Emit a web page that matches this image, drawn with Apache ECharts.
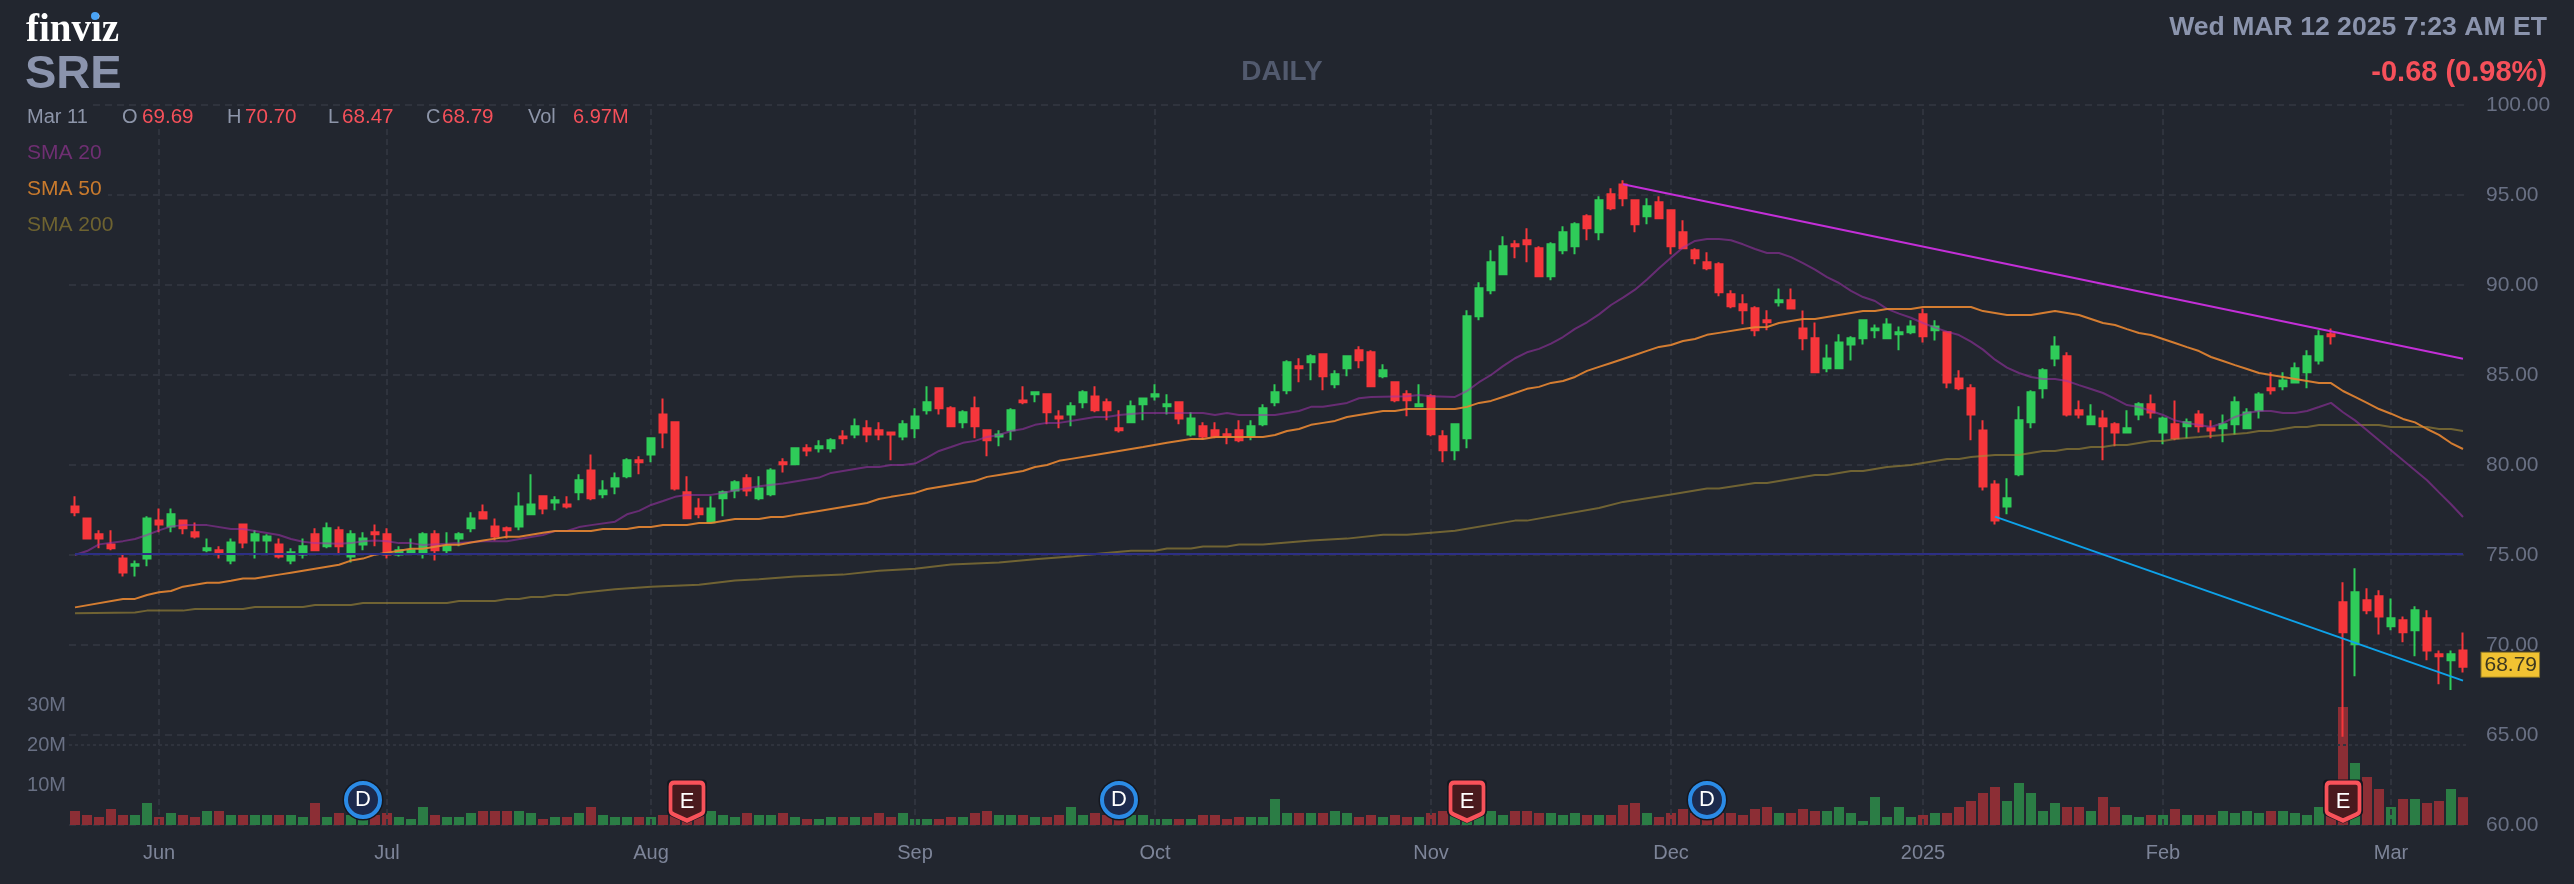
<!DOCTYPE html>
<html><head><meta charset="utf-8"><style>html,body{margin:0;padding:0;background:#22262f}#c{width:2574px;height:884px}</style>
<script src="https://cdn.jsdelivr.net/npm/echarts@6/dist/echarts.min.js"></script></head><body><div id="c"></div><script>
const opens=[77.70,77.03,76.15,75.59,74.81,74.40,74.81,76.92,76.59,76.92,76.26,75.26,75.26,74.70,76.70,75.81,75.81,75.59,74.70,75.03,76.15,75.48,76.37,74.92,75.59,76.26,76.15,75.03,75.15,75.15,76.15,75.26,75.92,76.48,77.37,76.59,76.48,76.59,77.26,78.26,77.92,77.81,78.48,79.70,78.37,78.81,79.37,80.26,80.59,82.81,82.37,78.48,77.59,76.82,78.15,78.59,79.26,78.15,78.37,80.15,80.04,80.93,80.93,80.93,81.59,81.70,82.04,81.93,81.81,81.59,82.04,83.04,84.26,83.15,82.37,83.15,81.93,81.59,81.93,83.59,83.93,83.93,82.70,82.81,83.48,83.81,83.48,82.04,82.37,83.37,83.81,83.26,83.48,81.70,82.15,81.93,81.71,81.93,81.60,82.26,83.49,84.15,85.49,85.71,86.15,84.49,85.37,86.37,86.26,84.93,84.60,83.93,83.26,83.82,81.60,80.82,81.49,88.26,89.71,90.60,92.26,92.49,92.04,90.49,91.93,92.15,93.82,92.93,95.04,95.59,94.71,93.82,94.60,94.15,92.93,91.93,91.26,91.15,89.49,88.93,88.71,88.04,89.04,89.15,87.59,87.04,85.37,85.37,86.70,87.04,87.48,87.04,87.26,87.37,88.37,87.48,87.37,84.81,84.26,81.92,78.92,77.70,79.48,82.37,84.26,85.92,86.04,83.04,82.26,82.59,82.26,81.81,82.81,83.37,81.81,82.26,82.15,82.81,82.04,82.04,82.26,82.04,83.04,84.26,84.37,84.59,85.15,85.81,87.26,72.37,70.04,72.48,72.71,71.04,71.37,70.82,71.48,69.48,69.15,69.69];
const highs=[78.26,77.03,76.37,76.37,75.03,74.70,77.15,77.59,77.59,76.92,76.81,75.92,75.48,75.92,76.70,76.37,76.15,75.92,75.37,75.92,76.48,76.81,76.59,76.37,76.26,76.70,76.48,75.48,75.92,76.26,76.37,76.26,76.26,77.37,77.81,77.03,76.59,78.48,79.48,78.26,78.26,78.26,79.48,80.59,79.15,79.59,80.37,80.48,81.48,83.70,82.37,79.37,78.15,78.26,78.59,79.15,79.48,79.37,79.82,80.37,80.93,81.15,81.37,81.48,81.93,82.59,82.48,82.37,81.81,82.48,83.15,84.37,84.26,83.26,83.04,83.81,81.93,81.93,83.15,84.37,84.04,83.93,83.04,83.48,84.15,84.37,83.70,83.04,83.59,83.70,84.48,83.93,83.48,82.93,82.37,82.37,82.04,82.49,82.49,83.37,84.49,85.82,85.93,86.15,86.15,85.26,86.04,86.60,86.37,85.60,84.60,84.15,84.49,83.93,81.93,82.26,88.60,90.15,91.93,92.71,92.49,93.15,92.15,92.37,93.26,93.49,93.93,94.93,95.37,95.82,94.71,94.82,94.93,94.15,93.60,92.04,91.82,91.26,89.71,89.49,88.82,88.60,89.81,89.81,88.59,87.92,86.70,87.26,87.15,88.04,87.81,88.15,87.70,88.04,88.70,88.04,87.37,85.26,84.48,82.48,79.15,79.26,83.26,84.15,85.37,87.15,86.26,83.59,83.37,83.04,82.37,83.04,83.48,83.92,82.70,83.59,82.59,83.04,82.48,82.81,83.81,83.15,84.04,85.15,85.15,85.70,86.37,87.48,87.59,73.48,74.26,73.15,73.04,72.59,71.59,72.15,71.93,69.70,69.70,70.70];
const lows=[77.15,75.92,75.37,75.26,73.81,73.81,74.37,76.26,76.26,76.15,75.92,75.15,74.81,74.48,75.37,74.81,75.03,74.81,74.48,74.81,75.26,75.37,75.03,74.59,75.26,75.48,74.81,74.92,75.03,74.81,74.70,75.03,75.48,76.26,77.03,75.81,75.92,76.37,77.26,77.26,77.48,77.59,78.04,78.04,78.15,78.37,79.26,79.48,80.15,80.93,78.59,77.04,77.04,76.82,77.15,78.15,78.26,78.04,78.26,79.59,80.04,80.48,80.70,80.70,81.15,81.48,81.26,81.37,80.26,81.37,81.48,82.81,82.81,82.15,82.04,81.48,80.48,81.04,81.37,83.37,83.48,82.26,82.04,82.15,83.15,82.93,82.48,81.81,82.37,82.48,83.59,82.81,82.26,81.59,81.41,81.48,81.15,81.26,81.37,82.15,83.26,83.93,84.60,84.71,84.15,84.26,84.93,85.37,84.37,84.82,83.49,82.71,83.26,81.60,80.15,80.26,80.93,88.04,89.49,90.60,91.49,91.26,90.49,90.26,91.71,91.71,92.49,92.49,94.15,94.37,92.93,93.37,93.71,91.71,92.04,91.15,90.82,89.37,88.71,87.82,87.15,87.48,88.81,88.70,86.37,85.15,85.15,85.37,85.81,86.70,87.04,87.04,86.37,87.26,86.81,86.92,84.26,84.15,81.37,78.59,76.70,77.26,79.37,82.04,83.70,85.48,82.70,82.59,82.26,80.26,81.04,81.81,82.48,82.59,81.15,81.37,81.48,81.81,81.48,81.26,81.70,82.04,82.59,83.92,84.15,84.59,84.26,85.59,86.70,64.90,68.26,71.71,70.59,70.82,70.15,69.37,69.15,67.82,67.50,68.47];
const closes=[77.37,75.92,75.92,75.37,74.03,74.48,77.03,76.70,77.26,76.48,76.03,75.37,75.15,75.70,75.70,76.15,76.03,74.92,75.15,75.48,75.26,76.48,75.48,76.15,75.92,76.15,75.03,75.26,75.26,76.15,75.26,75.48,76.15,77.03,77.03,76.03,76.37,77.70,77.81,77.59,78.04,77.70,79.15,78.15,78.59,79.26,80.26,80.15,81.48,81.81,78.70,77.04,77.26,77.59,78.48,79.04,78.59,78.70,79.70,80.04,80.93,80.81,81.04,81.37,81.48,82.15,81.70,81.70,81.70,82.26,82.70,83.48,83.15,82.15,82.93,82.15,81.37,81.70,83.04,83.48,84.04,82.93,82.59,83.26,84.04,83.04,83.04,81.93,83.26,83.70,83.93,83.37,82.59,82.59,81.59,81.59,81.60,81.37,82.15,83.15,84.04,85.71,85.37,86.04,84.93,85.04,86.04,85.82,84.37,85.26,83.60,83.60,83.37,81.71,80.82,82.26,88.26,89.82,91.26,92.15,92.15,92.26,90.49,92.26,92.93,93.37,93.15,94.71,94.26,94.82,93.37,94.37,93.71,92.15,92.04,91.49,90.93,89.60,88.82,88.60,87.48,87.93,89.15,88.70,87.04,85.15,85.92,86.81,87.04,88.04,87.59,87.81,87.37,87.70,87.15,87.70,84.59,84.26,82.81,78.81,76.92,78.15,82.48,84.04,85.26,86.59,82.81,82.81,82.70,82.15,81.81,82.04,83.37,82.92,82.59,81.48,82.37,82.15,81.92,82.26,83.48,82.92,83.92,84.15,84.70,85.37,86.04,87.15,87.15,70.71,72.93,71.93,71.59,71.48,70.71,71.93,69.70,69.37,69.48,68.79];
const volumes=[3.5,2.5,2,4,2.5,2.5,5.5,2,3,2.5,2,3.5,3.5,2.5,2.5,2.5,2.5,2.5,2.5,2,5.5,2,3,2.5,2,2.5,3,2,1.5,4.5,2.5,2,2,3,3.5,3.5,3.5,3.5,3,1.5,2,2,3,4.5,2.5,2,2,2,2,2.5,3.5,3,2.5,3.5,2.5,2,3,2.5,2.5,3,2,1.5,1.5,2,2,2,2,3,2,3,1.5,1.5,1.5,2,2,3,3.5,2.5,2.5,2.5,2,2,2.5,4.5,2.5,3,2.5,2,2.5,2.5,1.5,1.5,1.5,1.5,2.5,2.5,1.5,2,2,2,6.5,3,3,3,3,3.5,3,2,2.5,2,2.5,2,2,3,3.5,3,5,3,3.5,2.5,3.5,3.5,3,3,2.5,3,2.5,2.5,2.5,5,5.5,3,2,3,4,3,3,3,3,2.5,4,4.5,3,3,4,3.5,3.5,4.5,3,1,7,2,4.5,2,2.5,3,3,4.5,6,8,9.5,6,10.5,8,3.5,5.5,4.5,4.5,3.5,7,4.5,2.5,2,2.5,2.5,4,2.5,2.5,2.5,3.5,3,3.5,3,3.5,3.5,3,2.5,4.5,3,29.5,15.5,12,9,4.5,6.5,6.5,5.5,6,9,6.97];
const sma20Pts=[[0,75.00],[1,75.22],[2,75.59],[4,75.77],[5,75.89],[6,76.11],[7,76.37],[8,76.59],[9,76.66],[11,76.66],[13,76.44],[14,76.44],[16,76.22],[17,76.11],[18,75.89],[19,75.74],[20,75.66],[22,75.63],[23,75.66],[24,75.77],[25,75.81],[26,75.77],[27,75.66],[28,75.66],[29,75.55],[31,75.63],[32,75.66],[34,75.77],[36,75.77],[38,76.00],[39,76.11],[40,76.33],[41,76.33],[42,76.55],[43,76.66],[45,76.85],[46,77.26],[47,77.45],[48,77.78],[49,78.00],[50,78.23],[51,78.34],[53,78.34],[54,78.45],[55,78.60],[57,78.82],[59,78.97],[61,79.19],[62,79.30],[63,79.56],[65,79.78],[66,79.89],[67,79.89],[68,80.00],[69,80.00],[70,80.08],[71,80.41],[72,80.78],[73,81.00],[74,81.23],[75,81.34],[76,81.56],[77,81.67],[78,81.89],[79,82.00],[80,82.23],[81,82.34],[82,82.34],[83,82.45],[84,82.56],[85,82.67],[86,82.67],[87,82.78],[89,82.89],[94,82.89],[95,82.78],[96,82.89],[97,82.78],[100,82.78],[102,83.00],[103,83.23],[104,83.23],[106,83.45],[107,83.71],[108,83.78],[111,83.82],[112,83.89],[113,83.82],[115,83.78],[116,84.11],[117,84.60],[118,85.00],[119,85.49],[120,85.93],[121,86.26],[122,86.45],[123,86.74],[124,87.11],[125,87.56],[126,87.93],[127,88.37],[128,88.89],[129,89.30],[130,89.74],[131,90.30],[132,90.93],[133,91.52],[134,92.08],[135,92.45],[136,92.56],[137,92.56],[138,92.49],[139,92.26],[140,92.00],[141,91.78],[142,91.78],[143,91.55],[144,91.22],[145,90.85],[146,90.44],[147,90.11],[148,89.67],[149,89.33],[150,89.11],[151,88.67],[152,88.41],[153,88.18],[154,87.89],[155,87.63],[156,87.41],[157,87.22],[158,86.85],[159,86.41],[160,85.85],[161,85.41],[162,85.11],[163,84.89],[164,84.78],[165,84.78],[166,84.67],[167,84.44],[168,84.22],[169,84.00],[170,83.67],[171,83.33],[172,83.22],[173,83.00],[174,82.78],[175,82.48],[176,82.33],[177,82.22],[178,82.11],[179,82.33],[180,82.67],[181,82.89],[182,83.00],[183,83.00],[184,82.89],[185,82.89],[186,83.00],[187,83.22],[188,83.45],[189,82.93],[190,82.48],[191,81.93],[192,81.37],[193,80.82],[194,80.26],[195,79.71],[196,79.15],[197,78.48],[198,77.82],[199,77.11]];
const sma50Pts=[[0,72.09],[4,72.56],[5,72.56],[6,72.78],[7,72.93],[8,73.00],[9,73.24],[10,73.35],[11,73.46],[12,73.46],[13,73.57],[14,73.69],[15,73.69],[16,73.80],[17,73.91],[18,74.02],[19,74.13],[20,74.24],[21,74.35],[22,74.46],[23,74.69],[24,74.80],[25,75.02],[26,75.13],[27,75.24],[28,75.35],[29,75.35],[30,75.46],[31,75.57],[32,75.57],[33,75.69],[34,75.80],[35,75.91],[36,76.02],[37,76.02],[38,76.13],[39,76.24],[40,76.33],[43,76.33],[44,76.44],[46,76.44],[47,76.56],[48,76.56],[49,76.67],[51,76.67],[52,76.78],[53,76.78],[54,76.89],[55,77.00],[57,77.00],[58,77.11],[59,77.11],[60,77.23],[62,77.45],[64,77.67],[66,77.89],[67,78.11],[68,78.23],[69,78.34],[70,78.45],[71,78.67],[72,78.78],[73,78.89],[75,79.11],[76,79.34],[77,79.45],[78,79.56],[79,79.67],[80,79.89],[81,80.00],[82,80.23],[83,80.34],[85,80.56],[87,80.78],[89,81.00],[91,81.23],[93,81.45],[94,81.45],[95,81.56],[99,81.56],[100,81.67],[101,81.89],[102,82.00],[103,82.23],[104,82.34],[105,82.45],[106,82.67],[107,82.78],[108,82.89],[109,83.00],[110,83.00],[111,83.11],[115,83.11],[116,83.23],[117,83.45],[118,83.56],[119,83.78],[120,84.00],[121,84.23],[122,84.34],[123,84.56],[124,84.67],[125,84.89],[126,85.23],[127,85.45],[128,85.67],[129,85.89],[130,86.11],[131,86.34],[132,86.56],[133,86.67],[134,86.89],[135,87.00],[136,87.23],[137,87.34],[139,87.56],[140,87.65],[141,87.67],[142,87.89],[143,88.00],[144,88.11],[145,88.11],[146,88.22],[147,88.33],[148,88.44],[149,88.55],[150,88.55],[151,88.67],[153,88.67],[154,88.78],[158,88.78],[159,88.55],[160,88.44],[161,88.33],[163,88.33],[164,88.44],[165,88.55],[166,88.44],[167,88.33],[168,88.11],[169,87.89],[170,87.78],[171,87.55],[172,87.33],[173,87.22],[174,87.00],[175,86.78],[176,86.55],[177,86.33],[178,86.00],[179,85.78],[180,85.55],[181,85.33],[182,85.11],[183,85.00],[184,84.89],[185,84.78],[186,84.67],[187,84.55],[188,84.55],[189,84.11],[190,83.78],[191,83.45],[192,83.11],[193,82.85],[194,82.56],[195,82.37],[196,82.00],[197,81.67],[198,81.22],[199,80.89]];
const sma200Pts=[[0,71.76],[5,71.80],[6,71.91],[9,71.91],[10,72.00],[14,72.00],[15,72.11],[19,72.11],[20,72.22],[23,72.22],[24,72.33],[31,72.33],[32,72.45],[35,72.45],[36,72.56],[37,72.56],[38,72.67],[39,72.67],[40,72.78],[41,72.78],[42,72.89],[45,73.10],[48,73.24],[52,73.35],[55,73.58],[57,73.65],[60,73.80],[64,73.91],[67,74.13],[70,74.24],[73,74.47],[77,74.58],[80,74.76],[83,74.91],[85,75.06],[88,75.24],[90,75.24],[91,75.36],[93,75.36],[94,75.47],[96,75.47],[97,75.58],[99,75.58],[101,75.69],[103,75.80],[106,75.91],[109,76.13],[111,76.13],[113,76.24],[115,76.35],[120,76.91],[121,76.91],[127,77.61],[129,77.95],[133,78.36],[136,78.69],[137,78.69],[140,79.00],[141,79.00],[143,79.22],[145,79.44],[146,79.44],[148,79.67],[149,79.67],[151,79.89],[153,80.00],[155,80.22],[156,80.33],[157,80.33],[158,80.44],[160,80.55],[162,80.55],[163,80.67],[164,80.78],[165,80.78],[166,80.89],[167,80.89],[168,81.00],[169,81.00],[170,81.11],[171,81.11],[172,81.22],[173,81.33],[174,81.33],[175,81.44],[177,81.55],[179,81.67],[181,81.78],[182,81.89],[183,81.89],[185,82.11],[186,82.11],[187,82.22],[192,82.22],[193,82.11],[196,82.11],[197,82.00],[198,82.00],[199,81.89]];
const resistanceLine=[[129,95.60],[199,85.90]];
const supportLine=[[160,77.13],[199,68.02]];
const levelLine=[[0,75.05],[199,75.05]];
const monthIdx=[7,26,48,70,90,113,133,154,174,193];
const monthLabels=['Jun','Jul','Aug','Sep','Oct','Nov','Dec','2025','Feb','Mar'];
const priceTicks=[60,65,70,75,80,85,90,95,100];
const volTicks=[10,20,30];
const dividendIdx=[24,87,136];
const earningsIdx=[51,116,189];
const dividendLevel=61.39, earningsLevel=61.30;
const holidays=['2024-05-27','2024-06-19','2024-07-04','2024-09-02','2024-11-28','2024-12-25','2025-01-01','2025-01-09','2025-01-20','2025-02-17'];
const categories=[];
for(let d=new Date(Date.UTC(2024,4,22));categories.length<closes.length;d.setUTCDate(d.getUTCDate()+1)){
  const s=d.toISOString().slice(0,10),w=d.getUTCDay();
  if(w&&w<6&&!holidays.includes(s))categories.push(s);
}
const BG='#22262f',UP='#2fcb59',DOWN='#f6363b',GRID='#2f333d',TICK='#697084',FONT='"Liberation Sans",Arial,sans-serif';
const candles=opens.map((o,i)=>[o,closes[i],lows[i],highs[i]]);
const volData=volumes.map((v,i)=>({value:v,itemStyle:{color:closes[i]>=opens[i]?'#2b7d45':'#8c2e35'}}));
const T=(text,x,y,fill,size,weight,align)=>({type:'text',z:101,style:{text,x,y,fill,font:`${weight||'normal'} ${size}px ${FONT}`,textAlign:align||'left',textVerticalAlign:'middle'}});
const mask=(x,y,width,height)=>({type:'rect',z:100,shape:{x,y,width,height},style:{fill:BG}});
const line=(name,data,color,width,z)=>({name,type:'line',data,symbol:'none',z:z,silent:true,animation:false,lineStyle:{color,width},xAxisIndex:0,yAxisIndex:0});
const penta='path://M4 0H32Q36 0 36 4V29Q36 32 33 33.2L18 40L3 33.2Q0 32 0 29V4Q0 0 4 0Z';
const chart=echarts.init(document.getElementById('c'),null,{renderer:'canvas'});
chart.setOption({
  animation:false,backgroundColor:BG,
  grid:{left:69,top:105,width:2400,height:720,containLabel:false},
  xAxis:{type:'category',data:categories,boundaryGap:true,axisLine:{show:false},axisTick:{show:false},splitLine:{show:false},
    axisLabel:{interval:i=>monthIdx.includes(i),formatter:(v,i)=>monthLabels[monthIdx.indexOf(i)]||'',color:'#7d8498',fontSize:20,fontFamily:FONT,margin:18}},
  yAxis:[
    {type:'value',position:'right',min:60,max:100,interval:5,axisLine:{show:false},axisTick:{show:false},
      splitLine:{show:true,lineStyle:{color:GRID,width:2,type:[7,5]}},
      axisLabel:{margin:17,formatter:v=>priceTicks.includes(v)?v.toFixed(2):'',color:TICK,fontSize:21,fontFamily:FONT,padding:[0,0,8,0]}},
    {type:'value',position:'left',min:0,max:180,interval:10,axisLine:{show:false},axisTick:{show:false},splitLine:{show:false},
      axisLabel:{margin:3,formatter:v=>volTicks.includes(v)?v+'M':'',color:TICK,fontSize:20,fontFamily:FONT,padding:[0,0,7,0]}}
  ],
  series:[
    {name:'Volume',type:'bar',xAxisIndex:0,yAxisIndex:1,data:volData,barWidth:10,z:1,silent:true,animation:false,
      markLine:{silent:true,symbol:'none',animation:false,z:2,label:{show:false},
        lineStyle:{color:GRID,width:2,type:[6,4]},
        data:monthIdx.map(i=>({xAxis:i})).concat([{yAxis:20,lineStyle:{color:GRID,width:2,type:[3,3]}}])}},
    line('SMA 200',sma200Pts,'rgba(165,140,55,0.6)',2,4),
    {name:'SRE',type:'candlestick',xAxisIndex:0,yAxisIndex:0,data:candles,barWidth:8,z:3,silent:true,animation:false,
      itemStyle:{color:UP,color0:DOWN,borderColor:UP,borderColor0:DOWN,borderWidth:2},
      markPoint:{silent:true,animation:false,symbol:'circle',symbolSize:1,itemStyle:{color:'rgba(0,0,0,0)'},z:30,
        label:{show:true,position:'right',distance:18,offset:[0,-2],formatter:p=>closes[closes.length-1].toFixed(2),color:'#3d3820',fontSize:21,fontFamily:FONT,backgroundColor:'#f1c232',borderColor:'#8a7426',borderWidth:1,padding:[2,2,1,3]},
        data:[{coord:[categories[closes.length-1],closes[closes.length-1]]}]}},
    line('SMA 20',sma20Pts,'rgba(157,50,169,0.56)',2,5),
    line('SMA 50',sma50Pts,'rgba(228,132,50,0.92)',2,5),
    line('Level',levelLine,'#2d2f85',2,6),
    line('Resistance',resistanceLine,'#c42fd8',2,6),
    line('Support',supportLine,'#0ea2e9',2,6),
    {type:'scatter',yAxisIndex:0,silent:true,animation:false,z:7,symbol:'circle',symbolSize:41,itemStyle:{color:'#14171f',opacity:1},data:dividendIdx.map(i=>[i,dividendLevel])},
    {type:'scatter',yAxisIndex:0,silent:true,animation:false,z:8,symbol:'circle',symbolSize:34,itemStyle:{color:'#1c2a4d',borderColor:'#2b8be6',borderWidth:4,opacity:1},
      label:{show:true,position:'inside',formatter:'D',color:'#fff',fontSize:22,fontFamily:FONT},data:dividendIdx.map(i=>[i,dividendLevel])},
    {type:'scatter',yAxisIndex:0,silent:true,animation:false,z:7,symbol:penta,symbolSize:[40,44],itemStyle:{color:'#14171f',opacity:1},data:earningsIdx.map(i=>[i,earningsLevel])},
    {type:'scatter',yAxisIndex:0,silent:true,animation:false,z:8,symbol:penta,symbolSize:[33,38],itemStyle:{color:'#4a1a1e',borderColor:'#f9525a',borderWidth:4,opacity:1},
      label:{show:true,position:'inside',formatter:'E',color:'#fff',fontSize:22,fontFamily:FONT},data:earningsIdx.map(i=>[i,earningsLevel])}
  ],
  graphic:{elements:[
    mask(0,98,93,12),mask(20,106,605,23),mask(20,180,88,18),
    {type:'text',z:101,style:{text:'finviz',x:26,y:11,fill:'#fff',font:'bold 39px "Liberation Serif",serif',textVerticalAlign:'top'}},
    {type:'circle',z:102,shape:{cx:95,cy:16,r:4},style:{fill:'#4aa3f5'}},
    T('SRE',25,75,'#8b94ad',47,'bold'),
    T('DAILY',1282,72,'#525a6e',28,'bold','center'),
    T('Wed MAR 12 2025 7:23 AM ET',2547,28,'#8b94ad',26.6,'bold','right'),
    T('-0.68 (0.98%)',2547,73,'#f6505a',29,'bold','right'),
    T('Mar 11',27,117,'#8d95a9',20),
    T('O',122,117,'#8d95a9',20),T('69.69',142,117,'#f6505a',20.6),
    T('H',227,117,'#8d95a9',20),T('70.70',245,117,'#f6505a',20.6),
    T('L',328,117,'#8d95a9',20),T('68.47',342,117,'#f6505a',20.6),
    T('C',426,117,'#8d95a9',20),T('68.79',442,117,'#f6505a',20.6),
    T('Vol',528,117,'#8d95a9',20),T('6.97M',573,117,'#f6505a',20),
    T('SMA 20',27,153,'#6f2f72',21),
    T('SMA 50',27,189,'#c97a2d',21),
    T('SMA 200',27,225,'#6e6330',21)
  ]}
});
</script></body></html>
